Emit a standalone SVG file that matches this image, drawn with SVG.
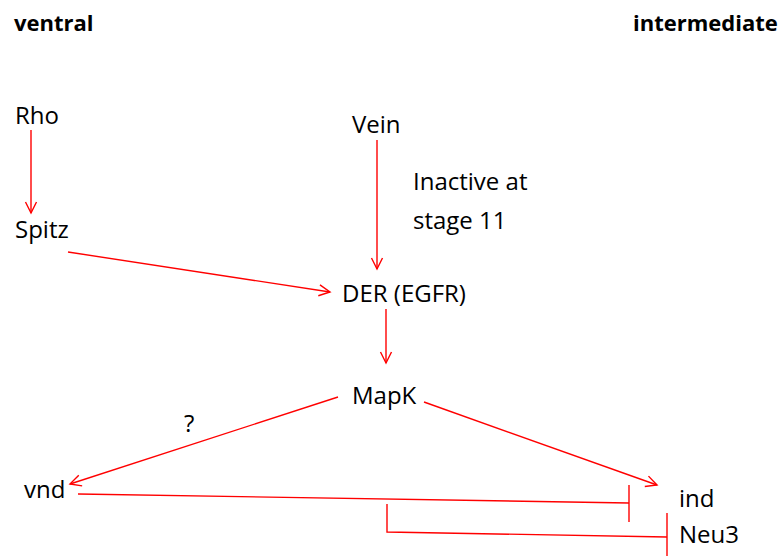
<svg xmlns="http://www.w3.org/2000/svg" width="784" height="556" viewBox="0 0 784 556">
<style>
text{font-family:"Open Sans","Liberation Sans",sans-serif;font-size:24px;fill:#000}
.b{font-weight:bold;font-size:22px}
.c{stroke:#ff0000;stroke-width:1.4;fill:none}
</style>
<defs>
<marker id="a" markerUnits="userSpaceOnUse" markerWidth="16" markerHeight="16" refX="12" refY="6" orient="auto" viewBox="0 0 16 12">
<path d="M1,0.5 L12,6 L1,11.5" fill="none" stroke="#ff0000" stroke-width="1.4"/>
</marker>
</defs>
<rect width="784" height="556" fill="#fff"/>
<g id="labels">
<text class="b" x="14" y="31">ventral</text>
<text class="b" x="633" y="31">intermediate</text>
<text x="413" y="190">Inactive at</text>
<text x="413" y="229">stage 11</text>
<text x="184" y="432">?</text>
</g>
<g id="rho"><text x="15" y="124">Rho</text></g>
<g id="spitz"><text x="15" y="238">Spitz</text></g>
<g id="vein"><text x="352" y="133">Vein</text></g>
<g id="der"><text x="342" y="302">DER (EGFR)</text></g>
<g id="mapk"><text x="352" y="404">MapK</text></g>
<g id="vnd"><text x="24" y="498">vnd</text></g>
<g id="ind"><text x="679" y="507">ind</text></g>
<g id="neu3"><text x="679" y="543">Neu3</text></g>
<g id="connectors">
<line class="c" x1="31" y1="130" x2="31" y2="213" marker-end="url(#a)"/>
<line class="c" x1="68" y1="252" x2="330" y2="292" marker-end="url(#a)"/>
<line class="c" x1="377" y1="140" x2="377" y2="269" marker-end="url(#a)"/>
<line class="c" x1="386" y1="309" x2="386" y2="363" marker-end="url(#a)"/>
<line class="c" x1="338" y1="397" x2="70" y2="484" marker-end="url(#a)"/>
<line class="c" x1="424" y1="402" x2="657" y2="485" marker-end="url(#a)"/>
<polyline class="c" points="78,494 629,503"/>
<line class="c" x1="629" y1="485" x2="629" y2="522"/>
<polyline class="c" points="387,504 387,532 667,537"/>
<line class="c" x1="667" y1="513" x2="667" y2="556"/>
</g>
</svg>
